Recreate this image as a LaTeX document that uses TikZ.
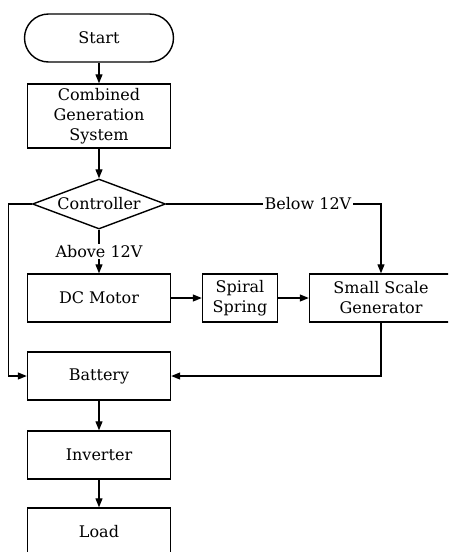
\documentclass[tikz,border=0pt]{standalone}
\usepackage{fontspec}
\setmainfont{DejaVu Serif}
\usetikzlibrary{shapes.geometric, arrows.meta}
\tikzstyle{startstop} = [
    rectangle,
    rounded corners=24pt,
    minimum width=149pt,
    minimum height=48pt,
    line width=1.4pt,
    draw=black
]
\tikzstyle{process} = [
    rectangle,
    minimum width=143pt,
    minimum height=48pt,
    align=center,
    line width=1.4pt,
    draw=black
]
\tikzstyle{decision} = [
    diamond,
    aspect=2.6,
    minimum width=133pt,
    minimum height=50pt,
    inner sep=0pt,
    line width=1.4pt,
    draw=black
]
\tikzstyle{arrow} = [line width=1.2pt,-{Triangle[length=9pt,width=7pt]}]
\tikzstyle{tag} = [fill=white, inner sep=1.5pt]

\begin{document}
\begin{tikzpicture}[node distance=78pt, font=\fontsize{16pt}{20pt}\selectfont]
\useasboundingbox (0,0) rectangle (448pt,-552pt);
\clip (0,0) rectangle (448pt,-552pt);

\node (start) [startstop] at (99pt,-38pt) {Start};

\node (combined) [process, below of=start, minimum height=64pt]
{Combined\\Generation\\System};

\node (controller) [decision, below of=combined, yshift=-10pt]
{Controller};

\node (motor) [process, below of=controller, yshift=-16pt]
{DC Motor};

\node (spring) [process, right of=motor, xshift=63pt, minimum width=75pt]
{Spiral\\Spring};

\node (generator) [process, right of=spring, xshift=63pt]
{Small Scale\\Generator};

\node (battery) [process, below of=motor]
{Battery};

\node (inverter) [process, below of=battery, yshift=-1pt]
{Inverter};

\node (load) [process, below of=inverter, yshift=1pt]
{Load};

\coordinate (rightturn) at (controller.east -| generator.north);
\coordinate (leftturn) at ([xshift=-23pt]controller.west);

\draw [arrow] (start) -- (combined);
\draw [arrow] (combined) -- (controller);
\draw [arrow] (controller) -- node[tag]{Above 12V} (motor);
\draw [arrow] (controller.east) -- node[tag, pos=0.66]{Below 12V} (rightturn) -- (generator.north);
\draw [arrow] (controller.west) -- (leftturn) |- (battery.west);

\draw [arrow] (motor) -- (spring);
\draw [arrow] (spring) -- (generator);
\draw [arrow] (generator.south) |- (battery.east);

\draw [arrow] (battery) -- (inverter);
\draw [arrow] (inverter) -- (load);

\end{tikzpicture}
\end{document}
